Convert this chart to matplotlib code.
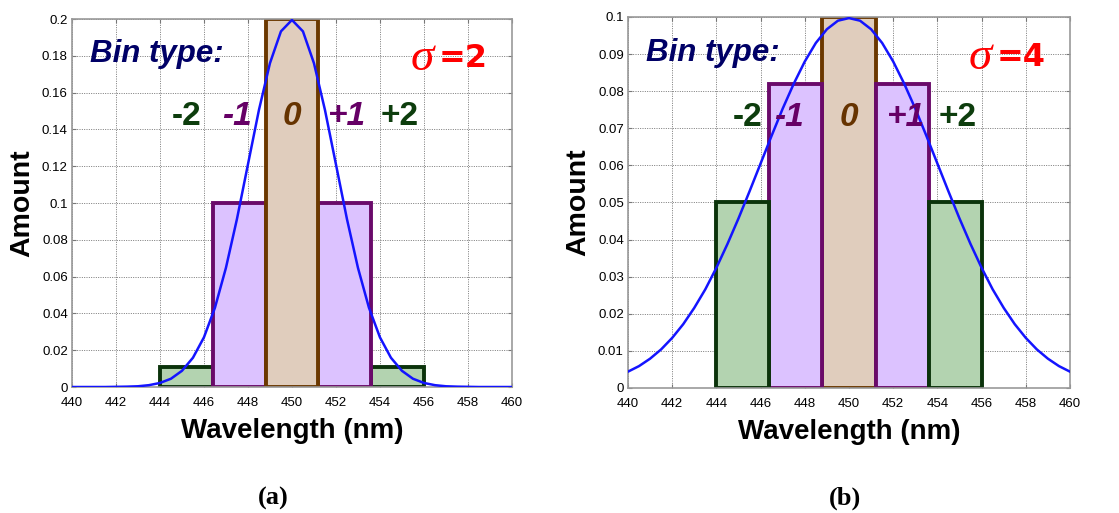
import numpy as np
import matplotlib
matplotlib.use("Agg")
import matplotlib.pyplot as plt

# ---------------- data ----------------
wavelength = [440.0, 440.5, 441.0, 441.5, 442.0, 442.5, 443.0, 443.5, 444.0, 444.5,
              445.0, 445.5, 446.0, 446.5, 447.0, 447.5, 448.0, 448.5, 449.0, 449.5,
              450.0, 450.5, 451.0, 451.5, 452.0, 452.5, 453.0, 453.5, 454.0, 454.5,
              455.0, 455.5, 456.0, 456.5, 457.0, 457.5, 458.0, 458.5, 459.0, 459.5, 460.0]

curve_a = [0.0, 0.0, 0.0, 0.0, 0.0001, 0.0002, 0.0004, 0.0010, 0.0022, 0.0045,
           0.0088, 0.0159, 0.0270, 0.0431, 0.0648, 0.0913, 0.1210, 0.1506, 0.1760, 0.1933,
           0.1995, 0.1933, 0.1760, 0.1506, 0.1210, 0.0913, 0.0648, 0.0431, 0.0270, 0.0159,
           0.0088, 0.0045, 0.0022, 0.0010, 0.0004, 0.0002, 0.0001, 0.0, 0.0, 0.0, 0.0]

curve_b = [0.0044, 0.0059, 0.0079, 0.0104, 0.0135, 0.0172, 0.0216, 0.0266, 0.0324, 0.0388,
           0.0457, 0.0530, 0.0605, 0.0680, 0.0753, 0.0820, 0.0880, 0.0930, 0.0967, 0.0990,
           0.0997, 0.0990, 0.0967, 0.0930, 0.0880, 0.0820, 0.0753, 0.0680, 0.0605, 0.0530,
           0.0457, 0.0388, 0.0324, 0.0266, 0.0216, 0.0172, 0.0135, 0.0104, 0.0079, 0.0059, 0.0044]

bin_centers = [445.2, 447.6, 450.0, 452.4, 454.8]
bin_width = 2.4
bin_labels = ["-2", "-1", "0", "+1", "+2"]
bars_a = [0.011, 0.1, 0.2, 0.1, 0.011]
bars_b = [0.05, 0.082, 0.1, 0.082, 0.05]

# ---------------- style ----------------
GREEN_E, GREEN_F = "#0b330b", "#b3d3b0"
PURP_E, PURP_F = "#6a0a6a", "#dcc2ff"
BROWN_E, BROWN_F = "#6b3800", "#e0cdbd"
edge_cols = [GREEN_E, PURP_E, BROWN_E, PURP_E, GREEN_E]
fill_cols = [GREEN_F, PURP_F, BROWN_F, PURP_F, GREEN_F]
text_cols = ["#0d3d0d", "#660066", "#663300", "#660066", "#0d3d0d"]
text_style = ["normal", "italic", "italic", "italic", "normal"]

SANS = "Liberation Sans"
SERIF = "Liberation Serif"

fig = plt.figure(figsize=(11.19, 5.13), dpi=100)

panels = [
    dict(pos=[0.0643, 0.2456, 0.3932, 0.7173], curve=curve_a, bars=bars_a,
         ymax=0.2, ystep=0.02,
         sigma="2", label_y=0.147, label_x=[445.2, 447.5, 450.0, 452.5, 454.9],
         bin_y=0.181, tag="(a)", tag_x=273,
         order=[0, 4, 1, 3, 2]),
    dict(pos=[0.5612, 0.2437, 0.3950, 0.7232], curve=curve_b, bars=bars_b,
         ymax=0.1, ystep=0.01,
         sigma="4", label_y=0.0728, label_x=[445.4, 447.3, 450.0, 452.6, 454.9],
         bin_y=0.0903, tag="(b)", tag_x=845,
         order=[2, 1, 3, 0, 4]),
]

for p in panels:
    ax = fig.add_axes(p["pos"])
    ax.set_xlim(440, 460)
    ax.set_ylim(0, p["ymax"])
    ax.set_axisbelow(True)
    ax.grid(True, linestyle=(0, (1.2, 1.6)), color="#666666", linewidth=0.6)

    for z, i in enumerate(p["order"]):
        ax.bar(bin_centers[i], p["bars"][i], width=bin_width, align="center",
               facecolor=fill_cols[i], edgecolor=edge_cols[i], linewidth=2.8,
               zorder=2 + z * 0.1)

    ax.plot(wavelength, p["curve"], color="#1414ff", linewidth=1.8, zorder=5)

    xt = np.arange(440, 461, 2)
    ax.set_xticks(xt)
    ax.set_xticklabels([str(v) for v in xt], fontsize=9.5, family=SANS)
    yt = np.arange(0, p["ymax"] + 1e-9, p["ystep"])
    ax.set_yticks(yt)
    ax.set_yticklabels(["0" if v == 0 else "%g" % round(v, 2) for v in yt],
                       fontsize=9.5, family=SANS)
    ax.tick_params(direction="in", length=3, color="#777777", top=True, right=True)
    ax.tick_params(axis="x", pad=7)
    ax.tick_params(axis="y", pad=3)
    for s in ax.spines.values():
        s.set_color("#999999")
        s.set_linewidth(1.2)

    ax.set_xlabel("Wavelength (nm)", fontsize=20, fontweight="bold", family=SANS, labelpad=7)
    ax.set_ylabel("Amount", fontsize=20.5, fontweight="bold", family=SANS, labelpad=5)

    ax.text(440.8, p["bin_y"], "Bin type:", fontsize=22.5, fontweight="bold", fontstyle="italic",
            color="#000066", family=SANS, ha="left", va="center", zorder=6)
    ax.text(458.9, p["bin_y"] - p["ymax"] * 0.011, "=" + p["sigma"], fontsize=23, fontweight="bold",
            color="#ff0000", family="DejaVu Sans", ha="right", va="center", zorder=6)
    ax.text(456.45, p["bin_y"] - p["ymax"] * 0.014, "σ", fontsize=34, fontstyle="italic",
            color="#ff0000", family=SERIF, ha="right", va="center", zorder=6)

    for i in range(5):
        ax.text(p["label_x"][i], p["label_y"], bin_labels[i], fontsize=24, fontweight="bold",
                fontstyle=text_style[i], color=text_cols[i], family=SANS,
                ha="center", va="center", zorder=6)

    fig.text(p["tag_x"] / 1119, 1 - 498 / 513, p["tag"], fontsize=19, fontweight="bold",
             family=SERIF, ha="center", va="center")

fig.savefig("out.png", dpi=100)
